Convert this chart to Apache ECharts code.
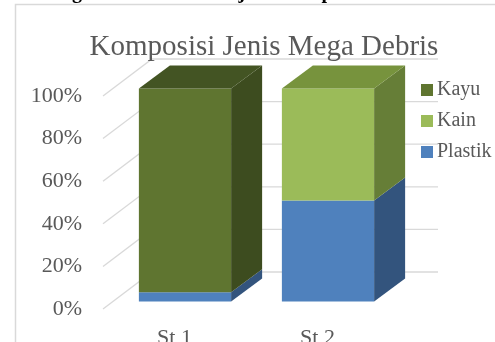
<!DOCTYPE html>
<html>
<head>
<meta charset="utf-8">
<script src="https://cdn.jsdelivr.net/npm/echarts@6/dist/echarts.min.js"></script>
<style>
  html, body { margin: 0; padding: 0; background: #ffffff; }
  #chart { width: 495px; height: 342px; }
</style>
</head>
<body>
<div id="chart"></div>
<script>
// Stations and share (%) of each debris type, stacked to 100%
const categories = ['St 1', 'St 2'];
const plastik = [4.4, 47.4];
const kain = [0, 52.6];
const kayu = [95.6, 0];
const yTicks = [0, 20, 40, 60, 80, 100];

// Pseudo-3D geometry (pixels)
const DEPTH_X = 49, DEPTH_Y = -37;      // floor / wall depth
const BAR_OFF_X = 10.5, BAR_OFF_Y = -7.5; // bar front plane inset
const BAR_DX = 31, BAR_DY = -23;        // bar depth
const BAR_FRAC = 0.645;                 // bar width / category width

const FONT = '"Liberation Serif", "Times New Roman", serif';
const TEXT_COLOR = '#595959';

const seriesDefs = [
  { name: 'Plastik', values: plastik, front: '#4f81bd', side: '#33547d', top: '#3e6796' },
  { name: 'Kain',    values: kain,    front: '#9bbb59', side: '#667e37', top: '#77933d' },
  { name: 'Kayu',    values: kayu,    front: '#5f7530', side: '#3d4c1f', top: '#435423' }
];

// cumulative stack bounds per category
const base = categories.map(() => 0);
const stacked = seriesDefs.map(def => {
  const rows = def.values.map((v, i) => {
    const row = [i, base[i], base[i] + v];
    base[i] += v;
    return row;
  });
  return rows;
});
const totals = base.slice();

function boxRenderer(def) {
  return function (params, api) {
    const ci = api.value(0), y0 = api.value(1), y1 = api.value(2);
    if (y1 - y0 <= 0) return null;
    const pb = api.coord([ci, y0]);
    const pt = api.coord([ci, y1]);
    const bw = api.size([1, 0])[0] * BAR_FRAC;
    const x0 = pb[0] - bw / 2 + BAR_OFF_X, x1 = x0 + bw;
    const yb = pb[1] + BAR_OFF_Y, yt = pt[1] + BAR_OFF_Y;
    const children = [
      { type: 'rect', shape: { x: x0, y: yt, width: bw, height: yb - yt },
        style: { fill: def.front } },
      { type: 'polygon', shape: { points: [[x1, yb], [x1 + BAR_DX, yb + BAR_DY], [x1 + BAR_DX, yt + BAR_DY], [x1, yt]] },
        style: { fill: def.side } }
    ];
    if (y1 >= totals[ci] - 1e-6) {
      children.push({ type: 'polygon',
        shape: { points: [[x0, yt], [x1, yt], [x1 + BAR_DX, yt + BAR_DY], [x0 + BAR_DX, yt + BAR_DY]] },
        style: { fill: def.top } });
    }
    return { type: 'group', children: children };
  };
}

// walls: diagonal on the side wall, horizontal on the back wall
function gridRenderer(params, api) {
  const v = api.value(0);
  const cs = params.coordSys;
  const y = api.coord([0, v])[1];
  const xl = cs.x, xr = cs.x + cs.width;
  return {
    type: 'polyline',
    shape: { points: [[xl, y], [xl + DEPTH_X, y + DEPTH_Y], [xr + DEPTH_X, y + DEPTH_Y]] },
    style: { stroke: '#d9d9d9', lineWidth: 1.3, fill: null },
    silent: true
  };
}

const series = [{
  type: 'custom',
  name: 'walls',
  data: yTicks.map(t => [t]),
  encode: { y: 0 },
  renderItem: gridRenderer,
  silent: true,
  z: 1
}].concat(seriesDefs.map((def, k) => ({
  type: 'custom',
  name: def.name,
  data: stacked[k],
  encode: { x: 0, y: [1, 2] },
  itemStyle: { color: def.front },
  renderItem: boxRenderer(def),
  z: 2
})));

const chart = echarts.init(document.getElementById('chart'), null, { renderer: 'canvas' });
chart.setOption({
  animation: false,
  backgroundColor: '#ffffff',
  title: {
    text: 'Komposisi Jenis Mega Debris',
    left: 259,
    textAlign: 'center',
    top: 28,
    textStyle: { fontFamily: FONT, fontSize: 29, fontWeight: 'normal', color: TEXT_COLOR }
  },
  graphic: [
    { type: 'rect', shape: { x: 15.5, y: 4.5, width: 520, height: 400 },
      style: { fill: null, stroke: '#d9d9d9', lineWidth: 1.5 }, z: -1, silent: true },
    { type: 'text', x: 42, y: 3, silent: true,
      style: { text: 'Diagram 2. Persentase jenis komposisi', fontFamily: FONT, fontSize: 20,
               fontWeight: 'bold', fill: '#000000', verticalAlign: 'bottom' } }
  ],
  legend: {
    data: ['Kayu', 'Kain', 'Plastik'],
    orient: 'vertical',
    left: 421,
    top: 80,
    padding: 0,
    icon: 'rect',
    itemWidth: 12,
    itemHeight: 12,
    itemGap: 11,
    textStyle: { fontFamily: FONT, fontSize: 20, color: TEXT_COLOR, padding: [0, 0, 0, -1] }
  },
  grid: { left: 103, right: 106, top: 96, bottom: 33, outerBoundsMode: 'none', containLabel: false },
  xAxis: {
    type: 'category',
    data: categories,
    boundaryGap: true,
    axisLine: { show: false },
    axisTick: { show: false },
    axisLabel: { fontFamily: FONT, fontSize: 22, color: TEXT_COLOR, margin: 18 }
  },
  yAxis: {
    type: 'value',
    min: 0,
    max: 100,
    interval: 20,
    splitLine: { show: false },
    axisLine: { show: false },
    axisTick: { show: false },
    axisLabel: { fontFamily: FONT, fontSize: 22, color: TEXT_COLOR, margin: 21, formatter: '{value}%' }
  },
  series: series
});
</script>
</body>
</html>
